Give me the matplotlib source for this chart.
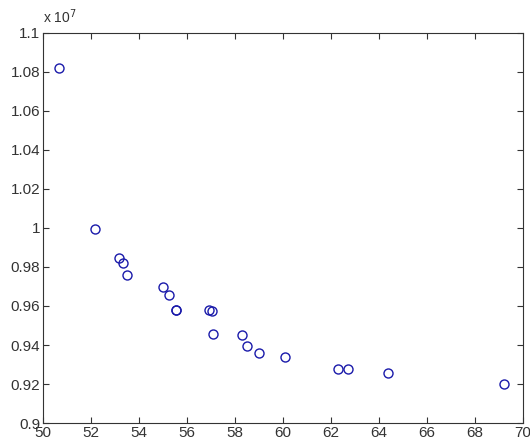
import matplotlib
matplotlib.use("Agg")
import matplotlib.pyplot as plt
from matplotlib.ticker import FuncFormatter, MultipleLocator

plt.rcParams['font.family'] = ['Liberation Sans', 'DejaVu Sans']

# data
x_vals = [50.68, 52.17, 53.18, 53.32, 53.50, 55.01, 55.25, 55.54, 55.56,
          56.90, 57.05, 57.10, 58.30, 58.49, 59.00, 60.10, 62.29, 62.72,
          64.38, 69.21]
y_vals = [1.0819, 0.9993, 0.9845, 0.9819, 0.9759, 0.9696, 0.9658, 0.9579, 0.9577,
          0.9578, 0.9575, 0.9455, 0.9450, 0.9395, 0.9360, 0.9338, 0.9278, 0.9278,
          0.9256, 0.9198]
y_vals = [v * 1e7 for v in y_vals]

fig = plt.figure(figsize=(5.30, 4.43), dpi=100)
ax = fig.add_axes([0.081, 0.045, 0.906, 0.881])

ax.plot(x_vals, y_vals, 'o', markersize=6.5, markerfacecolor='none',
        markeredgecolor='#1a1aaa', markeredgewidth=1.0)

ax.set_xlim(50, 70)
ax.set_ylim(0.9e7, 1.1e7)
ax.xaxis.set_major_locator(MultipleLocator(2))
ax.yaxis.set_major_locator(MultipleLocator(0.02e7))
ax.yaxis.set_major_formatter(FuncFormatter(lambda v, p: '%g' % round(v / 1e7, 4)))

ax.tick_params(direction='in', top=True, right=True, length=4, width=0.8,
               labelsize=11, pad=2, colors='#333333')
for s in ax.spines.values():
    s.set_color('#333333')
    s.set_linewidth(0.8)

ax.text(0.0, 1.017, r'x 10$^{7}$', transform=ax.transAxes, fontsize=10,
        ha='left', va='bottom', color='#333333')

fig.savefig('out.png', dpi=100)
